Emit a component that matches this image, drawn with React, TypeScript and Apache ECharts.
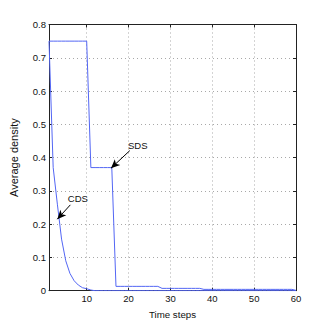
import React, { useEffect, useRef } from "react";
import * as echarts from "echarts";

const timeSteps: number[] = [
  1, 2, 3, 4, 5, 6, 7, 8, 9, 10, 11, 12, 13, 14, 15, 16, 17, 18, 19, 20,
  21, 22, 23, 24, 25, 26, 27, 28, 29, 30, 31, 32, 33, 34, 35, 36, 37, 38, 39, 40,
  41, 42, 43, 44, 45, 46, 47, 48, 49, 50, 51, 52, 53, 54, 55, 56, 57, 58, 59, 60,
];

const cdsValues: number[] = [
  0.75, 0.37, 0.26, 0.155, 0.09, 0.052, 0.03, 0.017, 0.009, 0.006,
  0.002, 0, 0, 0, 0, 0, 0, 0, 0, 0,
  0, 0, 0, 0, 0, 0, 0, 0, 0, 0,
  0, 0, 0, 0, 0, 0, 0, 0, 0, 0,
  0, 0, 0, 0, 0, 0, 0, 0, 0, 0,
  0, 0, 0, 0, 0, 0, 0, 0, 0, 0,
];

const sdsValues: number[] = [
  0.75, 0.75, 0.75, 0.75, 0.75, 0.75, 0.75, 0.75, 0.75, 0.75,
  0.37, 0.37, 0.37, 0.37, 0.37, 0.37, 0.013, 0.013, 0.013, 0.013,
  0.013, 0.013, 0.013, 0.013, 0.013, 0.013, 0.013, 0.007, 0.007, 0.007,
  0.007, 0.007, 0.007, 0.007, 0.007, 0.007, 0.007, 0.004, 0.004, 0.004,
  0.004, 0.004, 0.004, 0.004, 0.004, 0.004, 0.004, 0.004, 0.004, 0.004,
  0.004, 0.004, 0.004, 0.004, 0.004, 0.004, 0.004, 0.004, 0.004, 0.001,
];

const xTickValues: number[] = [10, 20, 30, 40, 50, 60];
const yTicks = { min: 0, max: 0.8, interval: 0.1 };

const xAxisName = "Time steps";
const yAxisName = "Average density";

// annotation anchors in data space: [label position, arrow start, arrow tip]
const sdsLabel = { text: "SDS", at: [22.2, 0.437], from: [20.3, 0.421], to: [15.8, 0.368] };
const cdsLabel = { text: "CDS", at: [7.9, 0.278], from: [6.1, 0.258], to: [2.98, 0.215] };

const FONT = "'Liberation Sans Narrow', 'Liberation Sans', Arial, sans-serif";
const LINE_COLOR = "#5366f4";
const GRID_COLOR = "#a8a8a8";
const AXIS_COLOR = "#222";

function annotation(a: { text: string; at: number[]; from: number[]; to: number[] }) {
  return {
    markLine: {
      silent: true,
      symbol: ["none", "arrow"],
      symbolSize: [6, 9],
      lineStyle: { color: "#000", width: 1, type: "solid" },
      label: { show: false },
      data: [[{ coord: a.from }, { coord: a.to }]],
    },
    markPoint: {
      silent: true,
      symbol: "rect",
      symbolSize: 1,
      itemStyle: { color: "rgba(0,0,0,0)" },
      label: {
        show: true,
        position: "inside",
        formatter: a.text,
        color: "#111",
        fontFamily: FONT,
        fontSize: 9.5,
      },
      data: [{ coord: a.at, value: a.text }],
    },
  };
}

export default function App() {
  const ref = useRef<HTMLDivElement>(null);

  useEffect(() => {
    if (!ref.current) return;
    const chart = echarts.init(ref.current, null, { renderer: "svg" });

    const baseX = {
      type: "value" as const,
      min: 1,
      max: 60,
      axisLine: { show: true, onZero: false, lineStyle: { color: AXIS_COLOR, width: 1 } },
      axisTick: {
        show: true,
        inside: true,
        length: 3,
        customValues: xTickValues,
        lineStyle: { color: AXIS_COLOR },
      },
    };
    const baseY = {
      type: "value" as const,
      min: yTicks.min,
      max: yTicks.max,
      interval: yTicks.interval,
      axisLine: { show: true, onZero: false, lineStyle: { color: AXIS_COLOR, width: 1 } },
      axisTick: { show: true, inside: true, length: 3, lineStyle: { color: AXIS_COLOR } },
    };

    chart.setOption({
      animation: false,
      backgroundColor: "#fff",
      grid: { left: 43, top: 24.5, right: 31, bottom: 36.3, containLabel: false },
      xAxis: [
        {
          ...baseX,
          position: "bottom",
          name: xAxisName,
          nameLocation: "middle",
          nameGap: 19,
          nameTextStyle: { color: "#111", fontFamily: FONT, fontSize: 9.7 },
          axisLabel: {
            show: true,
            customValues: xTickValues,
            margin: 3,
            color: "#111",
            fontFamily: FONT,
            fontSize: 9.5,
          },
          splitLine: {
            show: true,
            lineStyle: { color: GRID_COLOR, width: 1, type: [1, 3] },
          },
        },
        {
          ...baseX,
          position: "top",
          axisLabel: { show: false },
          splitLine: { show: false },
        },
      ],
      yAxis: [
        {
          ...baseY,
          position: "left",
          name: yAxisName,
          nameLocation: "middle",
          nameGap: 30,
          nameTextStyle: { color: "#111", fontFamily: "'Liberation Sans', Arial, sans-serif", fontSize: 11 },
          axisLabel: {
            show: true,
            margin: 3,
            color: "#111",
            fontFamily: FONT,
            fontSize: 9.5,
            formatter: (v: number) => (v === 0 ? "0" : v.toFixed(1)),
          },
          splitLine: {
            show: true,
            lineStyle: { color: GRID_COLOR, width: 1, type: [1, 3] },
          },
        },
        {
          ...baseY,
          position: "right",
          axisLabel: { show: false },
          splitLine: { show: false },
        },
      ],
      series: [
        {
          name: "CDS",
          type: "line",
          xAxisIndex: 0,
          yAxisIndex: 0,
          showSymbol: false,
          symbol: "none",
          lineStyle: { color: LINE_COLOR, width: 1 },
          data: timeSteps.map((t, i) => [t, cdsValues[i]]),
          ...annotation(cdsLabel),
        },
        {
          name: "SDS",
          type: "line",
          xAxisIndex: 0,
          yAxisIndex: 0,
          showSymbol: false,
          symbol: "none",
          lineStyle: { color: LINE_COLOR, width: 1 },
          data: timeSteps.map((t, i) => [t, sdsValues[i]]),
          ...annotation(sdsLabel),
        },
      ],
    });

    return () => chart.dispose();
  }, []);

  return (
    <div
      ref={ref}
      style={{ position: "fixed", left: 0, top: 0, width: 327, height: 327, background: "#fff" }}
    />
  );
}
